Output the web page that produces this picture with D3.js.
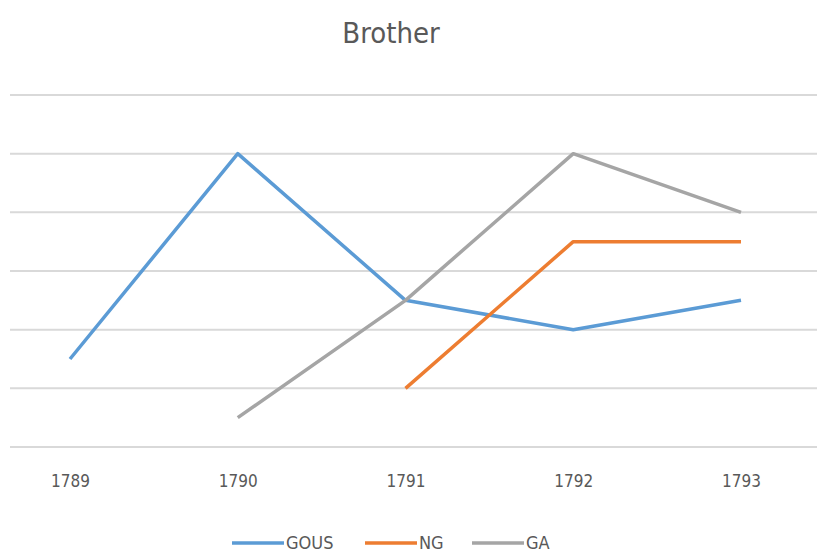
<!DOCTYPE html>
<html>
<head>
<meta charset="utf-8">
<script src="https://cdn.jsdelivr.net/npm/d3@7"></script>
<style>
  body { margin: 0; background: #fff; }
  text { font-family: "DejaVu Sans Condensed", "Liberation Sans Narrow", "Open Sans", sans-serif; fill: #595959; }
</style>
</head>
<body>
<div id="chart"></div>
<script>
var years = ["1789", "1790", "1791", "1792", "1793"];
var gous = [1.5, 5, 2.5, 2, 2.5];
var ng = [null, null, 1, 3.5, 3.5];
var ga = [null, 0.5, 2.5, 5, 4];
var seriesNames = ["GOUS", "NG", "GA"];
var seriesColors = ["#5B9BD5", "#ED7D31", "#A5A5A5"];

var width = 817, height = 553;

var svg = d3.select("#chart")
    .append("svg")
    .attr("width", width)
    .attr("height", height);

var xScale = d3.scalePoint()
    .domain(years)
    .range([70, 741]);

var yScale = d3.scaleLinear()
    .domain([0, 6])
    .range([447, 95]);

// gridlines
svg.append("g")
    .attr("class", "grid")
    .selectAll("line")
    .data(d3.range(0, 7))
    .enter().append("line")
    .attr("x1", 10)
    .attr("x2", width)
    .attr("y1", d => yScale(d))
    .attr("y2", d => yScale(d))
    .attr("stroke", "#d9d9d9")
    .attr("stroke-width", 2);

// x axis labels
var xAxis = d3.axisBottom(xScale).tickSize(0).tickPadding(0);
var gx = svg.append("g")
    .attr("transform", "translate(0,475)")
    .call(xAxis);
gx.select(".domain").remove();
gx.selectAll("text")
    .style("font-size", "17px")
    .style("font-family", null)
    .attr("dy", "0.71em")
    .attr("fill", "#595959");

// lines
var allSeries = [gous, ng, ga];
var line = d3.line()
    .defined(d => d.v != null)
    .x(d => xScale(d.year))
    .y(d => yScale(d.v));

allSeries.forEach(function(vals, i) {
    var pts = years.map((y, j) => ({year: y, v: vals[j]}));
    svg.append("path")
        .datum(pts)
        .attr("fill", "none")
        .attr("stroke", seriesColors[i])
        .attr("stroke-width", 3.5)
        .attr("stroke-linejoin", "round")
        .attr("d", line);
});

// title
svg.append("text")
    .attr("x", 391)
    .attr("y", 43)
    .attr("text-anchor", "middle")
    .style("font-size", "29px")
    .text("Brother");

// legend
var legendX = [232, 365, 472];
var legend = svg.append("g");
seriesNames.forEach(function(name, i) {
    legend.append("line")
        .attr("x1", legendX[i])
        .attr("x2", legendX[i] + 52)
        .attr("y1", 543)
        .attr("y2", 543)
        .attr("stroke", seriesColors[i])
        .attr("stroke-width", 3.5);
    legend.append("text")
        .attr("x", legendX[i] + 54)
        .attr("y", 549)
        .style("font-size", "18px")
        .text(name);
});
</script>
</body>
</html>
